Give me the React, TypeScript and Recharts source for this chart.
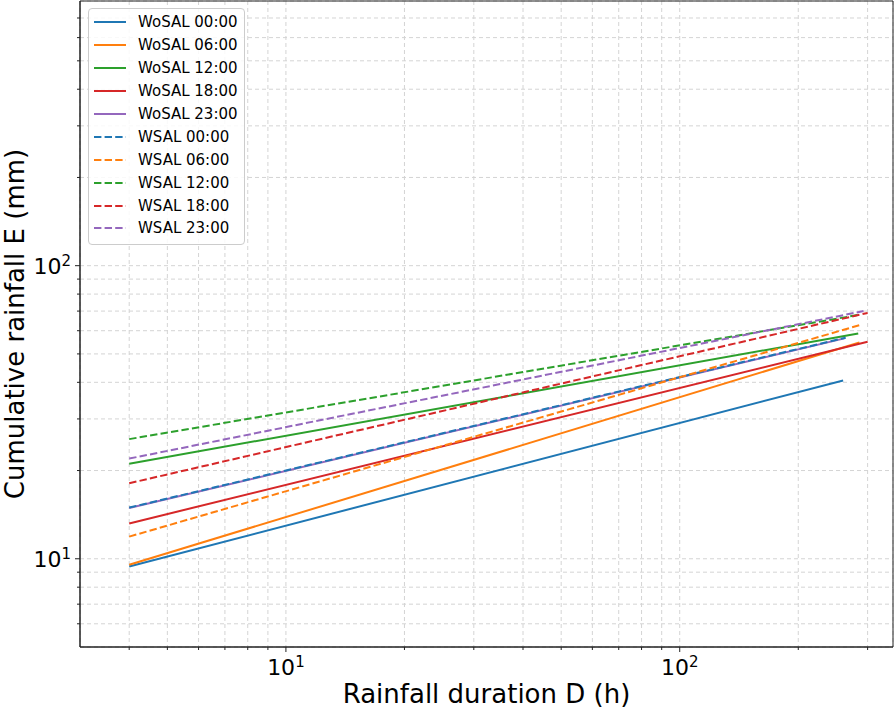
import React from "react";
import {
  LineChart,
  Line,
  XAxis,
  YAxis,
  CartesianGrid,
  Legend,
  ReferenceArea,
} from "recharts";

// durations (h) and cumulative rainfall (mm), start / end of each fitted line
const wosal0000 = [
  { d: 4, e: 9.41 },
  { d: 260, e: 40.6 },
];
const wosal0600 = [
  { d: 4, e: 9.54 },
  { d: 286, e: 54.7 },
];
const wosal1200 = [
  { d: 4, e: 21.1 },
  { d: 284, e: 58.7 },
];
const wosal1800 = [
  { d: 4, e: 13.2 },
  { d: 300, e: 55.0 },
];
const wosal2300 = [
  { d: 4, e: 14.9 },
  { d: 262, e: 56.5 },
];
const wsal0000 = [
  { d: 4, e: 14.95 },
  { d: 264, e: 56.8 },
];
const wsal0600 = [
  { d: 4, e: 11.9 },
  { d: 290, e: 63.0 },
];
const wsal1200 = [
  { d: 4, e: 25.6 },
  { d: 286, e: 68.0 },
];
const wsal1800 = [
  { d: 4, e: 18.1 },
  { d: 300, e: 69.0 },
];
const wsal2300 = [
  { d: 4, e: 21.97 },
  { d: 293, e: 70.0 },
];

const xTicks = [4, 5, 6, 7, 8, 9, 10, 20, 30, 40, 50, 60, 70, 80, 90, 100, 200, 300];
const yTicks = [6, 7, 8, 9, 10, 20, 30, 40, 50, 60, 70, 80, 90, 100, 200, 300, 400, 500, 600, 700];
const majors = [10, 100];

const series = [
  { name: "WoSAL 00:00", data: wosal0000, color: "#1f77b4", dash: false },
  { name: "WoSAL 06:00", data: wosal0600, color: "#ff7f0e", dash: false },
  { name: "WoSAL 12:00", data: wosal1200, color: "#2ca02c", dash: false },
  { name: "WoSAL 18:00", data: wosal1800, color: "#d62728", dash: false },
  { name: "WoSAL 23:00", data: wosal2300, color: "#9467bd", dash: false },
  { name: "WSAL 00:00", data: wsal0000, color: "#1f77b4", dash: true },
  { name: "WSAL 06:00", data: wsal0600, color: "#ff7f0e", dash: true },
  { name: "WSAL 12:00", data: wsal1200, color: "#2ca02c", dash: true },
  { name: "WSAL 18:00", data: wsal1800, color: "#d62728", dash: true },
  { name: "WSAL 23:00", data: wsal2300, color: "#9467bd", dash: true },
];

const FONT = "DejaVu Sans, Verdana, sans-serif";
const AXIS = "#222";
const DASH = "7.4 3.2";

function XTick({ x, y, payload }: any) {
  const v = payload.value;
  const major = majors.includes(v);
  return (
    <g>
      <line x1={x} y1={y} x2={x} y2={y + (major ? 5 : 3)} stroke={AXIS} strokeWidth={1} />
      {major && (
        <text x={x} y={y + 28} textAnchor="middle" fontSize={22} fill="#000" fontFamily={FONT}>
          10
          <tspan dy={-8} fontSize={15}>
            {Math.round(Math.log10(v))}
          </tspan>
        </text>
      )}
    </g>
  );
}

function YTick({ x, y, payload }: any) {
  const v = payload.value;
  const major = majors.includes(v);
  return (
    <g>
      <line x1={x - (major ? 5 : 3)} y1={y} x2={x} y2={y} stroke={AXIS} strokeWidth={1} />
      {major && (
        <text x={x - 9} y={y + 8} textAnchor="end" fontSize={22} fill="#000" fontFamily={FONT}>
          10
          <tspan dy={-8} fontSize={15}>
            {Math.round(Math.log10(v))}
          </tspan>
        </text>
      )}
    </g>
  );
}

function LegendBox() {
  return (
    <div
      style={{
        border: "1px solid #cccccc",
        borderRadius: 4,
        background: "rgba(255,255,255,0.85)",
        padding: "2px 0 4px 0",
        width: 157,
        fontFamily: FONT,
        fontSize: 15,
        boxSizing: "border-box",
      }}
    >
      {series.map((s) => (
        <div key={s.name} style={{ display: "flex", alignItems: "center", height: 22.9 }}>
          <svg width={49} height={10} style={{ flex: "none" }}>
            <line
              x1={5}
              x2={37}
              y1={5}
              y2={5}
              stroke={s.color}
              strokeWidth={2}
              strokeDasharray={s.dash ? DASH : undefined}
            />
          </svg>
          <span style={{ color: "#000", whiteSpace: "nowrap" }}>{s.name}</span>
        </div>
      ))}
    </div>
  );
}

export default function App() {
  return (
    <div style={{ width: 895, height: 709, position: "relative", fontFamily: FONT }}>
      <style>{"body{margin:0}"}</style>
      <LineChart width={895} height={709} margin={{ top: 1, right: 2, left: 0, bottom: 0 }}>
        <CartesianGrid stroke="#d4d4d4" strokeDasharray="4 3" strokeWidth={1} />
        <XAxis
          dataKey="d"
          type="number"
          scale="log"
          domain={[3, 348]}
          allowDataOverflow
          ticks={xTicks}
          interval={0}
          height={62}
          tickSize={0}
          tickMargin={0}
          tickLine={false}
          axisLine={{ stroke: AXIS, strokeWidth: 1 }}
          tick={<XTick />}
          label={{
            content: () => (
              <text x={486.5} y={703} textAnchor="middle" fontSize={26} fill="#000" fontFamily={FONT}>
                Rainfall duration D (h)
              </text>
            ),
          }}
        />
        <YAxis
          type="number"
          scale="log"
          domain={[5, 800]}
          allowDataOverflow
          ticks={yTicks}
          interval={0}
          width={80}
          tickSize={0}
          tickMargin={0}
          tickLine={false}
          axisLine={{ stroke: AXIS, strokeWidth: 1 }}
          tick={<YTick />}
          label={{
            content: () => (
              <text
                transform="translate(24,324) rotate(-90)"
                textAnchor="middle"
                fontSize={26}
                fill="#000"
                fontFamily={FONT}
              >
                Cumulative rainfall E (mm)
              </text>
            ),
          }}
        />
        <ReferenceArea x1={3} x2={348} y1={5} y2={800} fill="none" stroke={AXIS} strokeWidth={1} ifOverflow="extendDomain" />
        {series.map((s) => (
          <Line
            key={s.name}
            data={s.data}
            dataKey="e"
            name={s.name}
            type="linear"
            stroke={s.color}
            strokeWidth={2}
            strokeDasharray={s.dash ? DASH : undefined}
            dot={false}
            activeDot={false}
            isAnimationActive={false}
          />
        ))}
        <Legend
          layout="vertical"
          align="center"
          verticalAlign="middle"
          content={<LegendBox />}
          wrapperStyle={{ left: 88, top: 8, width: 158, height: "auto" }}
        />
      </LineChart>
    </div>
  );
}
